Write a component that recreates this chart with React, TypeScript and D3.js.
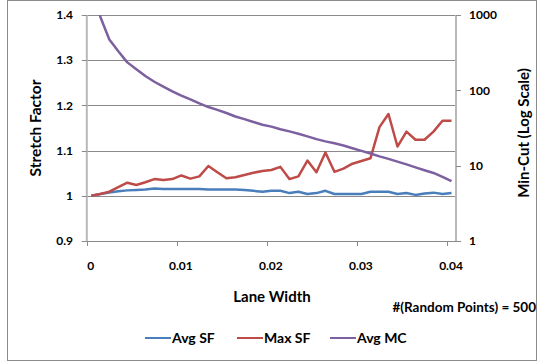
import * as d3 from "d3";
import { useEffect, useRef } from "react";

const laneWidth = [
  0.0005, 0.0015, 0.0025, 0.0035, 0.0045, 0.0055, 0.0065, 0.0075, 0.0085, 0.0095,
  0.0105, 0.0115, 0.0125, 0.0135, 0.0145, 0.0155, 0.0165, 0.0175, 0.0185, 0.0195,
  0.0205, 0.0215, 0.0225, 0.0235, 0.0245, 0.0255, 0.0265, 0.0275, 0.0285, 0.0295,
  0.0305, 0.0315, 0.0325, 0.0335, 0.0345, 0.0355, 0.0365, 0.0375, 0.0385, 0.0395,
  0.0405,
];

const avgSF = [
  1.0, 1.004, 1.007, 1.01, 1.012, 1.013, 1.014, 1.016, 1.015, 1.015,
  1.015, 1.015, 1.015, 1.014, 1.014, 1.014, 1.014, 1.013, 1.011, 1.009,
  1.011, 1.011, 1.006, 1.009, 1.004, 1.006, 1.011, 1.004, 1.004, 1.004,
  1.004, 1.009, 1.009, 1.009, 1.004, 1.006, 1.002, 1.005, 1.007, 1.004,
  1.006,
];

const maxSF = [
  1.0, 1.004, 1.009, 1.019, 1.029, 1.024, 1.03, 1.037, 1.035, 1.037,
  1.045, 1.038, 1.043, 1.066, 1.052, 1.039, 1.041, 1.046, 1.051, 1.055,
  1.057, 1.064, 1.037, 1.043, 1.078, 1.052, 1.096, 1.053, 1.06, 1.071,
  1.077, 1.083, 1.152, 1.181, 1.109, 1.142, 1.124, 1.124, 1.142, 1.166,
  1.166,
];

const avgMC = [
  4000, 950, 473, 330, 235, 190, 155, 130, 112, 97,
  85, 76, 67, 60, 55, 50, 45, 41.5, 38, 35,
  33, 30.5, 28.5, 26.5, 24.5, 22.5, 21, 19.8, 18.5, 17,
  15.7, 14.5, 13.3, 12.3, 11.3, 10.4, 9.5, 8.7, 8.0, 7.1,
  6.25,
];

const xTicks = [0, 0.01, 0.02, 0.03, 0.04];
const leftTicks = [0.9, 1, 1.1, 1.2, 1.3, 1.4];
const rightTicks = [1, 10, 100, 1000];

const series = [
  { name: "Avg SF", values: avgSF, color: "#4A7EBB", axis: "left" },
  { name: "Max SF", values: maxSF, color: "#BE4B48", axis: "left" },
  { name: "Avg MC", values: avgMC, color: "#7D60A0", axis: "right" },
];

export default function App() {
  const ref = useRef<SVGSVGElement>(null);

  useEffect(() => {
    const svg = d3.select(ref.current);
    svg.selectAll("*").remove();

    const width = 538,
      height = 362;
    const left = 86.8,
      right = 456,
      top = 15,
      bottom = 241;
    const font = "Lato, 'Open Sans', sans-serif";

    const x = d3.scaleLinear().domain([0, 0.041]).range([left, right]);
    const yL = d3.scaleLinear().domain([0.9, 1.4]).range([bottom, top]);
    const yR = d3.scaleLog().domain([1, 1000]).range([bottom, top]);

    // chart border
    svg.append("rect")
      .attr("x", 7.5)
      .attr("y", 0.5)
      .attr("width", width - 9)
      .attr("height", height - 2)
      .attr("fill", "white")
      .attr("stroke", "#8c8c8c")
      .attr("stroke-width", 1);

    // Gridlines
    svg.append("g")
      .selectAll("line")
      .data(leftTicks.slice(1))
      .join("line")
      .attr("x1", left)
      .attr("x2", right)
      .attr("y1", (d) => Math.round(yL(d)) + 0.5)
      .attr("y2", (d) => Math.round(yL(d)) + 0.5)
      .attr("stroke", "#8a8a8a")
      .attr("stroke-width", 1);

    // Axes lines
    const axisColor = "#b8b8b8";
    svg.append("line")
      .attr("x1", left).attr("x2", left).attr("y1", top).attr("y2", bottom)
      .attr("stroke", axisColor).attr("stroke-width", 2);
    svg.append("line")
      .attr("x1", right).attr("x2", right).attr("y1", top).attr("y2", bottom)
      .attr("stroke", axisColor).attr("stroke-width", 2);
    svg.append("line")
      .attr("x1", left).attr("x2", right)
      .attr("y1", Math.round(bottom) + 0.5).attr("y2", Math.round(bottom) + 0.5)
      .attr("stroke", "#8a8a8a").attr("stroke-width", 1);

    // Tick marks
    svg.append("g")
      .selectAll("line")
      .data(leftTicks)
      .join("line")
      .attr("x1", left - 5).attr("x2", left)
      .attr("y1", (d) => Math.round(yL(d)) + 0.5)
      .attr("y2", (d) => Math.round(yL(d)) + 0.5)
      .attr("stroke", "#8a8a8a");
    svg.append("g")
      .selectAll("line")
      .data(rightTicks)
      .join("line")
      .attr("x1", right).attr("x2", right + 5)
      .attr("y1", (d) => Math.round(yR(d)) + 0.5)
      .attr("y2", (d) => Math.round(yR(d)) + 0.5)
      .attr("stroke", "#8a8a8a");
    svg.append("g")
      .selectAll("line")
      .data(xTicks)
      .join("line")
      .attr("x1", (d) => Math.round(x(d)) + 0.5)
      .attr("x2", (d) => Math.round(x(d)) + 0.5)
      .attr("y1", bottom).attr("y2", bottom + 5)
      .attr("stroke", "#8a8a8a");

    // Tick labels
    svg.append("g")
      .selectAll("text")
      .data(leftTicks)
      .join("text")
      .attr("x", 73)
      .attr("y", (d) => yL(d))
      .attr("dy", "0.35em")
      .attr("text-anchor", "end")
      .attr("font-family", font)
      .attr("font-weight", "bold")
      .attr("font-size", 12)
      .attr("fill", "#000")
      .text((d) => (d === 1 ? "1" : d3.format(".1f")(d)));
    svg.append("g")
      .selectAll("text")
      .data(rightTicks)
      .join("text")
      .attr("x", 469)
      .attr("y", (d) => yR(d))
      .attr("dy", "0.35em")
      .attr("font-family", font)
      .attr("font-weight", "bold")
      .attr("font-size", 12)
      .attr("fill", "#000")
      .text((d) => String(d));
    svg.append("g")
      .selectAll("text")
      .data(xTicks)
      .join("text")
      .attr("x", (d) => x(d) + 4)
      .attr("y", 266)
      .attr("dy", "0.35em")
      .attr("text-anchor", "middle")
      .attr("font-family", font)
      .attr("font-weight", "bold")
      .attr("font-size", 12)
      .attr("fill", "#000")
      .text((d) => (d === 0 ? "0" : d3.format(".2f")(d)));

    // Axis titles
    svg.append("text")
      .attr("transform", "translate(36,128) rotate(-90)")
      .attr("text-anchor", "middle")
      .attr("dy", "0.35em")
      .attr("font-family", font)
      .attr("font-weight", "bold")
      .attr("font-size", 15.5)
      .text("Stretch Factor");
    svg.append("text")
      .attr("transform", "translate(524,133) rotate(-90)")
      .attr("text-anchor", "middle")
      .attr("dy", "0.35em")
      .attr("font-family", font)
      .attr("font-weight", "bold")
      .attr("font-size", 15)
      .text("Min-Cut (Log Scale)");
    svg.append("text")
      .attr("x", 272)
      .attr("y", 297)
      .attr("text-anchor", "middle")
      .attr("dy", "0.35em")
      .attr("font-family", font)
      .attr("font-weight", "bold")
      .attr("font-size", 15)
      .text("Lane Width");
    svg.append("text")
      .attr("x", 536)
      .attr("y", 307)
      .attr("text-anchor", "end")
      .attr("dy", "0.35em")
      .attr("font-family", font)
      .attr("font-weight", "bold")
      .attr("font-size", 13.5)
      .text("#(Random Points) = 500");

    // Clip
    svg.append("clipPath")
      .attr("id", "plot-clip")
      .append("rect")
      .attr("x", left)
      .attr("y", top)
      .attr("width", right - left)
      .attr("height", bottom - top);

    // Lines
    const plot = svg.append("g").attr("clip-path", "url(#plot-clip)");
    series.forEach((s) => {
      const yScale = s.axis === "left" ? yL : yR;
      const line = d3
        .line<number>()
        .x((d, i) => x(laneWidth[i]))
        .y((d) => yScale(d));
      plot.append("path")
        .datum(s.values)
        .attr("fill", "none")
        .attr("stroke", s.color)
        .attr("stroke-width", 2.5)
        .attr("stroke-linejoin", "round")
        .attr("d", line);
    });

    // Legend
    const legendX = [145, 237, 330];
    const legend = svg.append("g");
    series.forEach((s, i) => {
      legend.append("line")
        .attr("x1", legendX[i]).attr("x2", legendX[i] + 26)
        .attr("y1", 338).attr("y2", 338)
        .attr("stroke", s.color)
        .attr("stroke-width", 2);
      legend.append("text")
        .attr("x", legendX[i] + 27)
        .attr("y", 338)
        .attr("dy", "0.35em")
        .attr("font-family", font)
        .attr("font-weight", "bold")
        .attr("font-size", 14)
        .text(s.name);
    });
  }, []);

  return (
    <svg
      ref={ref}
      width={538}
      height={362}
      style={{ position: "absolute", left: 0, top: 0 }}
    ></svg>
  );
}
